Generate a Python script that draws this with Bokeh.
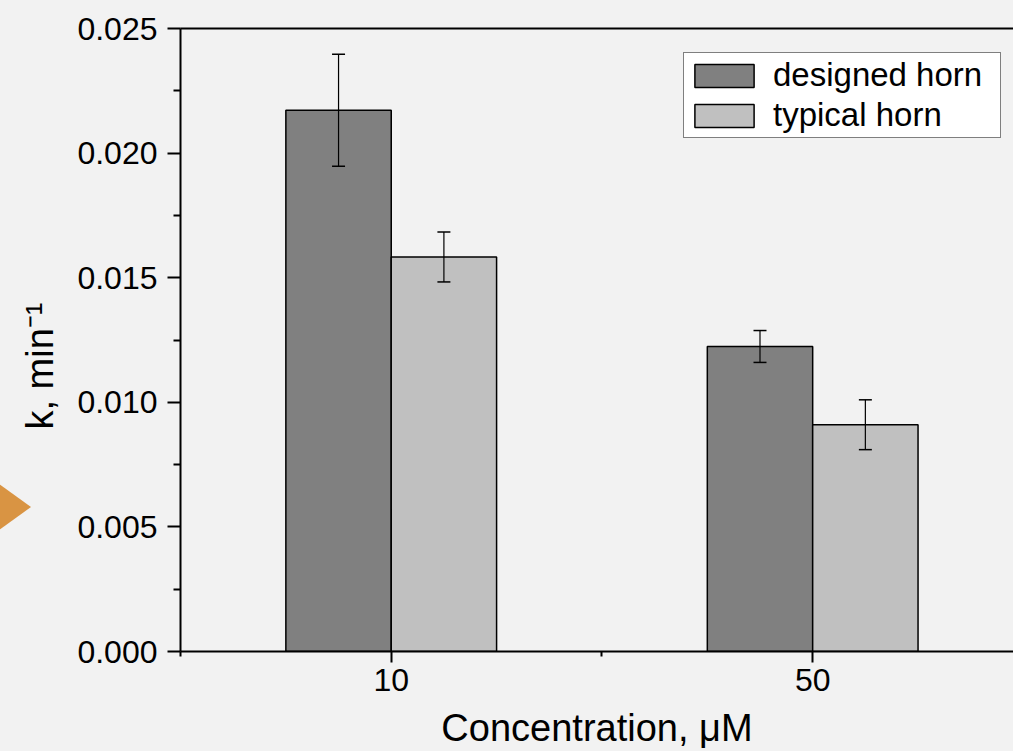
import numpy as np
from bokeh.plotting import figure
from bokeh.models import (Range1d, FixedTicker, NumeralTickFormatter, Whisker, TeeHead,
                          ColumnDataSource, LinearAxis, Title)
from bokeh.embed import file_html
from bokeh.resources import INLINE

# ---------------- data ----------------
categories = ["10", "50"]
series_names = ["designed horn", "typical horn"]
designed = [0.02172, 0.01224]
designed_err = [0.00225, 0.00064]
typical = [0.01583, 0.00910]
typical_err = [0.00100, 0.00100]
y_ticks = [0.000, 0.005, 0.010, 0.015, 0.020, 0.025]
y_minor = [0.0025, 0.0075, 0.0125, 0.0175, 0.0225]

FONT = "Liberation Sans"
BG = "#f2f2f2"

p = figure(width=1013, height=751,
           x_range=Range1d(-0.5, 1.4765), y_range=Range1d(0.0, 0.025),
           output_backend="svg", toolbar_location=None,
           min_border_left=180, min_border_right=0,
           min_border_top=28, min_border_bottom=99,
           background_fill_color=BG, border_fill_color=BG,
           outline_line_color=None)
p.xgrid.visible = False
p.ygrid.visible = False

idx = np.arange(len(categories))
bar_w = 0.25
offsets = [-bar_w / 2, bar_w / 2]
colors = ["#808080", "#c0c0c0"]
vals = [designed, typical]
errs = [designed_err, typical_err]

for name, off, col, v, e in zip(series_names, offsets, colors, vals, errs):
    v = np.array(v)
    e = np.array(e)
    src = ColumnDataSource(dict(x=idx + off, top=v, upper=v + e, lower=v - e))
    p.vbar(x="x", top="top", width=bar_w, bottom=0, source=src,
           fill_color=col, line_color="black", line_width=1.5,
           legend_label=name)
    w = Whisker(source=src, base="x", upper="upper", lower="lower",
                line_color="black", line_width=1.2, level="annotation",
                upper_head=TeeHead(size=13, line_width=1.5, line_color="black"),
                lower_head=TeeHead(size=13, line_width=1.5, line_color="black"))
    p.add_layout(w)

# ---------------- axes ----------------
xa = p.xaxis[0]
xa.ticker = FixedTicker(ticks=list(idx), minor_ticks=[-0.5, 0.5, 1.5])
xa.major_label_overrides = {int(i): c for i, c in zip(idx, categories)}
ya = p.yaxis[0]
ya.ticker = FixedTicker(ticks=y_ticks, minor_ticks=y_minor)
ya.formatter = NumeralTickFormatter(format="0.000")

for ax in (xa, ya):
    ax.axis_line_width = 2
    ax.axis_line_color = "black"
    ax.major_tick_line_width = 2
    ax.minor_tick_line_width = 2
    ax.major_tick_line_color = "black"
    ax.minor_tick_line_color = "black"
    ax.major_tick_in = 0
    ax.minor_tick_in = 0
    ax.major_label_text_font = FONT
    ax.major_label_text_font_size = "32px"
    ax.major_label_text_color = "black"

xa.major_tick_out = 11
xa.minor_tick_out = 5
xa.major_label_standoff = 6
xa.axis_label = "Concentration, μM"
xa.axis_label_text_font = FONT
xa.axis_label_text_font_size = "38px"
xa.axis_label_text_font_style = "normal"
xa.axis_label_text_color = "black"
xa.axis_label_standoff = 13

ya.major_tick_out = 13
ya.minor_tick_out = 7
ya.major_label_standoff = 10

top_axis = LinearAxis(axis_line_width=2, axis_line_color="black",
                      ticker=FixedTicker(ticks=[]),
                      major_tick_line_color=None, minor_tick_line_color=None,
                      major_tick_out=0, minor_tick_out=0, major_tick_in=0,
                      minor_tick_in=0, major_label_standoff=0)
p.add_layout(top_axis, "above")

ytitle = Title(text="k, min⁻¹", text_font=FONT, text_font_size="38px",
               text_font_style="normal", text_color="black",
               align="left", offset=222, standoff=28)
p.add_layout(ytitle, "left")

# ---------------- legend ----------------
lg = p.legend[0]
lg.location = (503, 513)
lg.background_fill_color = "white"
lg.background_fill_alpha = 1.0
lg.border_line_color = "black"
lg.border_line_width = 1
lg.label_text_font = FONT
lg.label_text_font_size = "33px"
lg.label_text_color = "black"
lg.glyph_width = 74
lg.glyph_height = 29
lg.padding = 3
lg.spacing = 2
lg.label_standoff = 12
lg.label_width = 224
lg.margin = 0

# decorative orange arrow at the left edge (pure CSS, no data)
css = ("<style>html,body{background:#f2f2f2;}"
       "body::before{content:'';position:fixed;left:-30px;top:463px;width:0;height:0;"
       "border-left:61px solid #D99443;border-top:44px solid transparent;"
       "border-bottom:44px solid transparent;z-index:10;}</style>")
html = file_html(p, INLINE, title="chart")
html = html.replace("<head>", "<head>" + css, 1)
open("out.html", "w").write(html)
